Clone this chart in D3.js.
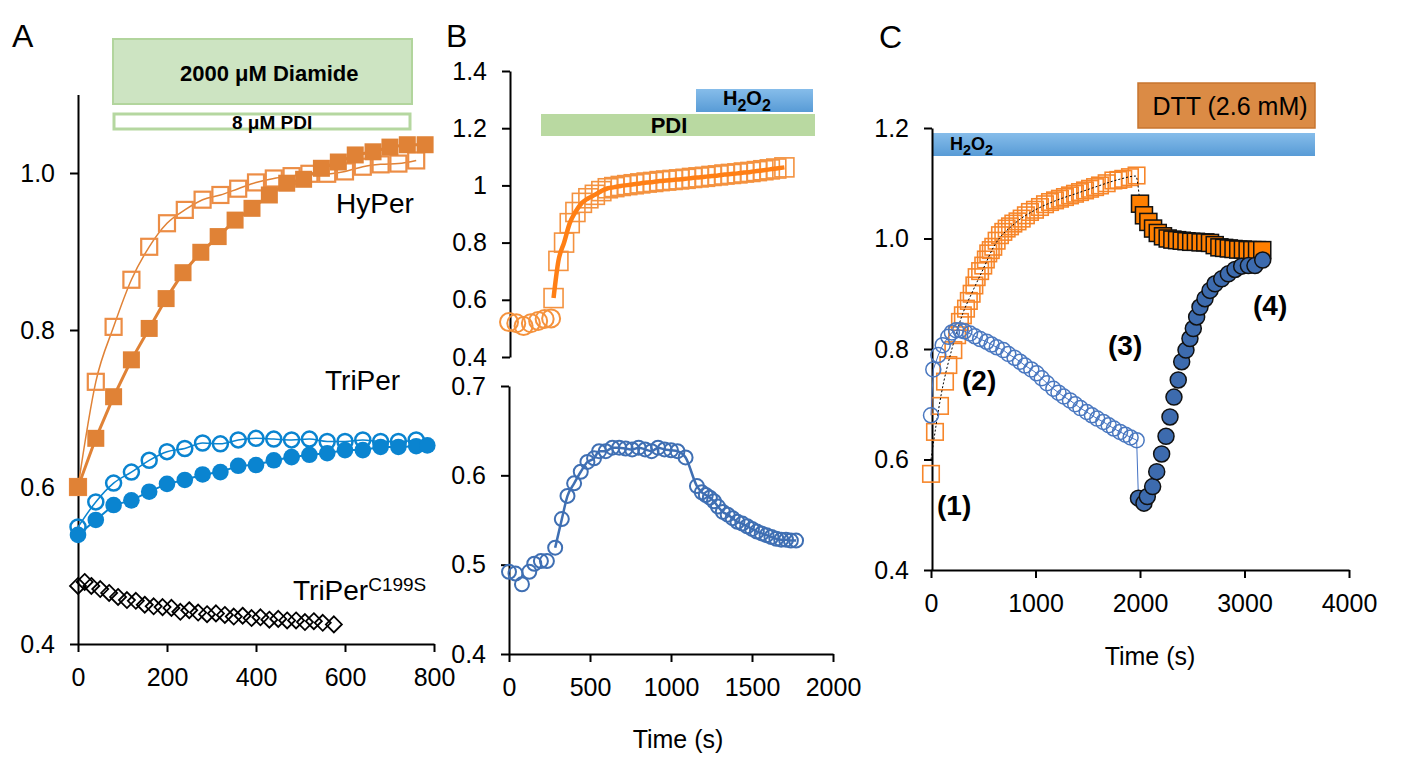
<html>
<head>
<script src="https://cdnjs.cloudflare.com/ajax/libs/d3/7.8.5/d3.min.js"></script>
<style>
  body { margin: 0; background: #fff; }
  text { font-family: "Liberation Sans", Arial, sans-serif; fill: #000; }
  .axis path, .axis line { stroke: #000; stroke-width: 2; }
  .axis text { font-size: 25px; font-family: "Liberation Sans", Arial, sans-serif; }
</style>
</head>
<body>
<svg width="1421" height="757"></svg>
<script>
// ---------- panel A ----------
var aTime = [0,40,80,120,160,200,240,280,320,360,400,440,480,520,560,600,640,680,720,760];
var hyperOpen = [0.600,0.734,0.804,0.864,0.906,0.936,0.953,0.966,0.972,0.980,0.988,0.993,0.996,0.999,0.999,1.002,1.008,1.011,1.012,1.016];
var hyperFilledTime = [0,40,80,120,160,198,236,276,315,353,391,430,469,507,547,585,623,663,701,740,780];
var hyperFilled = [0.600,0.662,0.715,0.762,0.802,0.840,0.873,0.899,0.919,0.940,0.955,0.972,0.987,0.992,1.006,1.014,1.023,1.027,1.033,1.036,1.036];
var triperOpen = [0.549,0.581,0.605,0.619,0.634,0.645,0.649,0.656,0.655,0.660,0.662,0.661,0.660,0.661,0.658,0.658,0.660,0.658,0.658,0.660];
var triperFilledTime = [0,40,80,120,160,200,240,280,320,360,400,440,480,520,560,600,640,680,720,760,785];
var triperFilled = [0.539,0.558,0.577,0.583,0.594,0.604,0.609,0.616,0.619,0.627,0.628,0.634,0.638,0.641,0.643,0.647,0.647,0.651,0.651,0.652,0.653];
var c199sTime = [0,15,30,50,70,90,110,130,150,170,190,210,230,250,270,290,310,330,350,370,390,410,430,450,470,490,510,530,550,575];
var c199s = [0.474,0.479,0.474,0.470,0.465,0.460,0.456,0.455,0.450,0.448,0.447,0.446,0.441,0.443,0.440,0.438,0.439,0.437,0.435,0.436,0.433,0.434,0.431,0.432,0.430,0.430,0.428,0.429,0.427,0.425];
var aXTicks = [0,200,400,600,800];
var aYTicks = [0.4,0.6,0.8,1.0];

// ---------- panel B ----------
var bCircTime = [0,45,90,135,180,220,260];
var bCirc = [0.522,0.518,0.508,0.518,0.526,0.533,0.535];
var bSqTime = [275,305,340,375,410,450,490,530,570,610,650,690,730,770,810,850,890,930,970,1010,1050,1090,1130,1170,1210,1250,1290,1330,1370,1410,1450,1490,1530,1570,1610,1650,1700];
var bSq = [0.606,0.736,0.800,0.868,0.907,0.939,0.955,0.967,0.980,0.990,0.994,0.998,1.001,1.004,1.007,1.010,1.012,1.015,1.017,1.019,1.021,1.023,1.026,1.028,1.030,1.033,1.035,1.038,1.040,1.042,1.045,1.047,1.050,1.053,1.056,1.059,1.063];
var bBlueTime = [0,40,80,125,156,197,234,285,326,361,402,443,484,525,556,597,638,680,720,760,800,840,880,920,960,1000,1040,1090,1160,1190,1215,1240,1265,1290,1320,1350,1380,1410,1440,1470,1500,1530,1560,1590,1620,1650,1680,1710,1740,1772];
var bBlue = [0.492,0.490,0.478,0.492,0.501,0.504,0.504,0.519,0.551,0.577,0.591,0.604,0.615,0.619,0.627,0.627,0.631,0.631,0.630,0.629,0.631,0.629,0.627,0.631,0.629,0.628,0.627,0.620,0.588,0.581,0.578,0.575,0.571,0.565,0.559,0.556,0.552,0.548,0.546,0.543,0.540,0.537,0.535,0.533,0.531,0.529,0.528,0.528,0.527,0.527];
var bXTicks = [0,500,1000,1500,2000];
var bTopTicks = [0.4,0.6,0.8,1,1.2,1.4];
var bBotTicks = [0.4,0.5,0.6,0.7];

// ---------- panel C ----------
var cOpenSqTime = [0,38,86,134,166,214,250,277,305,335,362,389,415,437,470,500,525,548,572,596,628,660,692,724,756,788,828,868,908,947,995,1043,1091,1139,1187,1234,1282,1330,1378,1426,1474,1522,1570,1617,1681,1745,1793,1840,1904,1967];
var cOpenSq = [0.574,0.650,0.697,0.741,0.771,0.798,0.825,0.849,0.861,0.873,0.887,0.900,0.915,0.930,0.941,0.951,0.962,0.973,0.979,0.985,0.996,1.006,1.012,1.018,1.022,1.027,1.031,1.036,1.042,1.048,1.052,1.057,1.062,1.066,1.069,1.072,1.075,1.078,1.081,1.084,1.087,1.090,1.093,1.096,1.100,1.105,1.106,1.108,1.111,1.114];
var cFitTime = [0,100,200,300,400,500,600,800,1000,1200,1400,1600,1800,1960,2000];
var cFit = [0.600,0.720,0.800,0.862,0.905,0.945,0.985,1.027,1.052,1.069,1.082,1.095,1.107,1.113,1.063];
var cFilledSqTime = [2000,2038,2080,2125,2170,2220,2265,2310,2355,2400,2445,2490,2535,2580,2625,2670,2715,2760,2805,2850,2895,2940,2985,3030,3075,3120,3170];
var cFilledSq = [1.063,1.042,1.030,1.018,1.010,1.004,1.000,0.998,0.997,0.996,0.995,0.994,0.994,0.993,0.993,0.992,0.988,0.984,0.983,0.982,0.981,0.980,0.980,0.979,0.979,0.979,0.979];
var cOpenCircTime = [0,22,70,112,166,200,240,280,320,373,420,470,533,580,630,692,740,800,852,900,960,1011,1060,1110,1171,1220,1270,1330,1380,1430,1490,1540,1590,1649,1700,1750,1809,1860,1910,1968];
var cOpenCirc = [0.680,0.763,0.789,0.807,0.822,0.830,0.834,0.834,0.832,0.828,0.823,0.818,0.813,0.808,0.803,0.798,0.791,0.784,0.777,0.770,0.763,0.756,0.747,0.738,0.728,0.721,0.714,0.707,0.700,0.693,0.686,0.680,0.674,0.668,0.662,0.656,0.650,0.645,0.640,0.635];
var cFilledCircTime = [1985,2038,2070,2121,2160,2207,2249,2287,2325,2366,2399,2440,2478,2510,2542,2574,2622,2670,2718,2782,2845,2909,2973,3037,3100,3174];
var cFilledCirc = [0.530,0.521,0.533,0.551,0.578,0.610,0.642,0.677,0.713,0.744,0.777,0.798,0.819,0.837,0.858,0.876,0.891,0.906,0.918,0.927,0.936,0.944,0.950,0.951,0.951,0.961];
var cXTicks = [0,1000,2000,3000,4000];
var cYTicks = [0.4,0.6,0.8,1.0,1.2];

var svg = d3.select("svg");

var defs = svg.append("defs");
var grad = defs.append("linearGradient").attr("id", "blueBar")
  .attr("x1", 0).attr("y1", 0).attr("x2", 0).attr("y2", 1);
grad.append("stop").attr("offset", "0%").attr("stop-color", "#86BDEA");
grad.append("stop").attr("offset", "100%").attr("stop-color", "#589BD6");

function zip(t, v) { return t.map(function(d, i) { return [d, v[i]]; }); }

function leftAxis(scale, x, ticks, fmt) {
  var g = svg.append("g").attr("class", "axis").attr("transform", "translate(" + x + ",0)")
    .call(d3.axisLeft(scale).tickValues(ticks).tickFormat(fmt).tickSize(8).tickSizeOuter(0).tickPadding(15));
  return g;
}
function bottomAxis(scale, y, ticks) {
  svg.append("g").attr("class", "axis").attr("transform", "translate(0," + y + ")")
    .call(d3.axisBottom(scale).tickValues(ticks).tickFormat(d3.format("d")).tickSize(8).tickSizeOuter(0).tickPadding(16));
}

function drawLine(data, x, y, color, width, curve, dash) {
  svg.append("path").datum(data)
    .attr("d", d3.line().x(function(d) { return x(d[0]); }).y(function(d) { return y(d[1]); }).curve(curve || d3.curveLinear))
    .attr("fill", "none").attr("stroke", color).attr("stroke-width", width)
    .attr("stroke-dasharray", dash || null);
}
function drawSquares(data, x, y, size, fill, stroke, sw) {
  svg.append("g").selectAll("rect").data(data).enter().append("rect")
    .attr("x", function(d) { return x(d[0]) - size / 2; })
    .attr("y", function(d) { return y(d[1]) - size / 2; })
    .attr("width", size).attr("height", size)
    .attr("fill", fill).attr("stroke", stroke).attr("stroke-width", sw);
}
function drawCircles(data, x, y, r, fill, stroke, sw) {
  svg.append("g").selectAll("circle").data(data).enter().append("circle")
    .attr("cx", function(d) { return x(d[0]); })
    .attr("cy", function(d) { return y(d[1]); })
    .attr("r", r).attr("fill", fill).attr("stroke", stroke).attr("stroke-width", sw);
}
function drawDiamonds(data, x, y, s, fill, stroke, sw) {
  svg.append("g").selectAll("path").data(data).enter().append("path")
    .attr("d", "M0," + (-s) + "L" + s + ",0L0," + s + "L" + (-s) + ",0Z")
    .attr("transform", function(d) { return "translate(" + x(d[0]) + "," + y(d[1]) + ")"; })
    .attr("fill", fill).attr("stroke", stroke).attr("stroke-width", sw);
}
function label(x, y, txt, size, weight, anchor) {
  return svg.append("text").attr("x", x).attr("y", y).text(txt)
    .style("font-size", size + "px").style("font-weight", weight || "normal")
    .attr("text-anchor", anchor || "start");
}
function h2o2(x, y, size) {
  var t = svg.append("text").attr("x", x).attr("y", y).style("font-size", size + "px").style("font-weight", "bold");
  t.append("tspan").text("H");
  t.append("tspan").text("2").attr("dy", size * 0.3).style("font-size", (size * 0.8) + "px");
  t.append("tspan").text("O").attr("dy", -size * 0.3);
  t.append("tspan").text("2").attr("dy", size * 0.3).style("font-size", (size * 0.8) + "px");
}

// ================= A =================
var xA = d3.scaleLinear().domain([0, 800]).range([78, 434]);
var yA = d3.scaleLinear().domain([0.4, 1.1]).range([644, 94.5]);

svg.append("rect").attr("x", 113).attr("y", 39).attr("width", 299).attr("height", 65)
  .attr("fill", "#CDE4C2").attr("stroke", "#B2D59D").attr("stroke-width", 2);
label(180, 81, "2000 \u03bcM Diamide", 22, "bold");
svg.append("rect").attr("x", 114).attr("y", 114).attr("width", 296).attr("height", 15)
  .attr("fill", "#fff").attr("stroke", "#B5D7A0").attr("stroke-width", 3);
label(232, 129, "8 \u03bcM PDI", 19, "bold");

leftAxis(yA, 78, aYTicks, d3.format(".1f"));
bottomAxis(xA, 644, aXTicks);

var orangeA = "#E08236", blueA = "#0A84D0";
drawLine(zip(aTime, hyperOpen), xA, yA, orangeA, 1.5, d3.curveMonotoneX);
drawSquares(zip(aTime, hyperOpen), xA, yA, 16, "none", "#EC8D45", 2.2);
drawLine(zip(hyperFilledTime, hyperFilled), xA, yA, orangeA, 3);
drawSquares(zip(hyperFilledTime, hyperFilled), xA, yA, 17, orangeA, "none", 0);

drawLine(zip(aTime, triperOpen), xA, yA, blueA, 1.5, d3.curveMonotoneX);
drawCircles(zip(aTime, triperOpen), xA, yA, 7.5, "none", blueA, 2.5);
drawLine(zip(triperFilledTime, triperFilled), xA, yA, blueA, 2);
drawCircles(zip(triperFilledTime, triperFilled), xA, yA, 8.3, blueA, "none", 0);

drawDiamonds(zip(c199sTime, c199s), xA, yA, 8, "none", "#000", 1.8);

label(336, 213, "HyPer", 28);
label(325, 390, "TriPer", 28);
var tp = label(293, 600, "TriPer", 28);
tp.append("tspan").text("C199S").attr("dy", -9).style("font-size", "19px");

label(12, 47, "A", 32);

// ================= B =================
var xB = d3.scaleLinear().domain([0, 2000]).range([509, 833]);
var yBt = d3.scaleLinear().domain([0.4, 1.4]).range([357, 71]);
var yBb = d3.scaleLinear().domain([0.4, 0.7]).range([654, 386]);

svg.append("rect").attr("x", 541).attr("y", 114).attr("width", 274).attr("height", 22).attr("fill", "#B9D9A1");
label(669, 133, "PDI", 22, "bold", "middle");
svg.append("rect").attr("x", 696).attr("y", 89).attr("width", 117).attr("height", 23).attr("fill", "url(#blueBar)");
h2o2(723, 105, 20);

leftAxis(yBt, 510, bTopTicks, function(d) { return String(d); });
leftAxis(yBb, 509, bBotTicks, d3.format(".1f"));
bottomAxis(xB, 654, bXTicks);

var orangeB = "#FF7F15";
drawCircles(zip(bCircTime, bCirc), xB, yBt, 9, "none", "#F5923C", 2);
drawSquares(zip(bSqTime, bSq), xB, yBt, 19, "none", "#F4923F", 1.6);
drawLine(zip(bSqTime, bSq), xB, yBt, orangeB, 4.5, d3.curveMonotoneX);

var blueB = "#3F6FB3";
drawLine(zip(bBlueTime, bBlue).slice(7), xB, yBb, blueB, 2.5, d3.curveMonotoneX);
drawCircles(zip(bBlueTime, bBlue), xB, yBb, 7, "none", blueB, 2);

label(678, 748, "Time (s)", 25, "normal", "middle");
label(446, 47, "B", 32);

// ================= C =================
var xC = d3.scaleLinear().domain([0, 4000]).range([931, 1349]);
var yC = d3.scaleLinear().domain([0.4, 1.2]).range([570, 128]);

svg.append("rect").attr("x", 1138).attr("y", 83).attr("width", 177).attr("height", 45)
  .attr("fill", "#DB8B45").attr("stroke", "#C8752F").attr("stroke-width", 1.5);
label(1230, 115, "DTT (2.6 mM)", 25, "normal", "middle");
svg.append("rect").attr("x", 933).attr("y", 133).attr("width", 382).attr("height", 23).attr("fill", "url(#blueBar)");
h2o2(950, 150, 18);

leftAxis(yC, 932, cYTicks, d3.format(".1f"));
bottomAxis(xC, 570, cXTicks);

drawSquares(zip(cOpenSqTime, cOpenSq), xC, yC, 16.5, "none", "#F7862A", 1.6);
drawLine(zip(cFitTime, cFit), xC, yC, "#000", 1, d3.curveMonotoneX, "2,2");
drawSquares(zip(cFilledSqTime, cFilledSq), xC, yC, 17, "#FF7F00", "#111", 1.5);

var blueC = "#4472C4";
drawLine(zip(cOpenCircTime, cOpenCirc).concat([[cFilledCircTime[0], cFilledCirc[0]]]), xC, yC, blueC, 1);
drawCircles(zip(cOpenCircTime, cOpenCirc), xC, yC, 7.5, "none", "#4A78C0", 1.5);
drawCircles(zip(cFilledCircTime, cFilledCirc), xC, yC, 8, "#3D6BAE", "#111", 1.5);

label(937, 515, "(1)", 28, "bold");
label(962, 390, "(2)", 28, "bold");
label(1108, 355, "(3)", 28, "bold");
label(1253, 315, "(4)", 28, "bold");

label(1150, 665, "Time (s)", 25, "normal", "middle");
label(879, 48, "C", 32);
</script>
</body>
</html>
